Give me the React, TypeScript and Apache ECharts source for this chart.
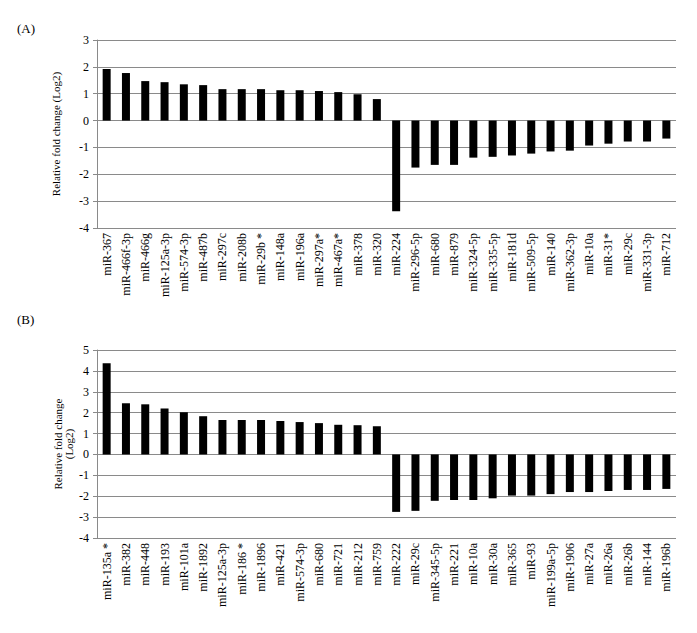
import React, { useEffect, useRef } from "react";
import * as echarts from "echarts";

const categoriesA = [
  "miR-367", "miR-466f-3p", "miR-466g", "miR-125a-3p", "miR-574-3p", "miR-487b",
  "miR-297c", "miR-208b", "miR-29b *", "miR-148a", "miR-196a", "miR-297a*",
  "miR-467a*", "miR-378", "miR-320", "miR-224", "miR-296-5p", "miR-680",
  "miR-879", "miR-324-5p", "miR-335-5p", "miR-181d", "miR-509-5p", "miR-140",
  "miR-362-3p", "miR-10a", "miR-31*", "miR-29c", "miR-331-3p", "miR-712",
];
const valuesA = [
  1.92, 1.77, 1.47, 1.43, 1.35, 1.32, 1.17, 1.17, 1.17, 1.13, 1.13, 1.1, 1.06, 0.98, 0.8,
  -3.38, -1.75, -1.65, -1.65, -1.38, -1.35, -1.3, -1.23, -1.15, -1.12, -0.93, -0.86, -0.78, -0.78, -0.67,
];
const categoriesB = [
  "miR-135a *", "miR-382", "miR-448", "miR-193", "miR-101a", "miR-1892",
  "miR-125a-3p", "miR-186 *", "miR-1896", "miR-421", "miR-574-3p", "miR-680",
  "miR-721", "miR-212", "miR-759", "miR-222", "miR-29c", "miR-345-5p",
  "miR-221", "miR-10a", "miR-30a", "miR-365", "miR-93", "miR-199a-5p",
  "miR-1906", "miR-27a", "miR-26a", "miR-26b", "miR-144", "miR-196b",
];
const valuesB = [
  4.37, 2.45, 2.4, 2.2, 2.02, 1.83, 1.65, 1.65, 1.65, 1.6, 1.55, 1.5, 1.42, 1.4, 1.35,
  -2.75, -2.7, -2.22, -2.18, -2.18, -2.1, -1.97, -1.97, -1.9, -1.8, -1.8, -1.75, -1.7, -1.7, -1.65,
];
const yRangeA = { min: -4, max: 3 };
const yRangeB = { min: -4, max: 5 };
const yTitleA = "Relative fold change (Log2)";
const yTitleB = "Relative fold change\n(Log2)";

const FONT = "Liberation Serif";
const GRID_COLOR = "#8a8a8a";

function yAxis(gridIndex: number, range: { min: number; max: number }, name: string, nameGap: number) {
  return {
    type: "value",
    gridIndex,
    min: range.min,
    max: range.max,
    interval: 1,
    name,
    nameLocation: "middle",
    nameGap,
    nameRotate: 90,
    nameMoveOverlap: false,
    nameTextStyle: { fontFamily: FONT, fontSize: 11, color: "#000", lineHeight: 11 },
    axisLine: { show: true, lineStyle: { color: GRID_COLOR, width: 1 } },
    axisTick: { show: true, length: 4, lineStyle: { color: GRID_COLOR } },
    axisLabel: { fontFamily: FONT, fontSize: 12, color: "#000", margin: 8 },
    splitLine: { show: true, lineStyle: { color: GRID_COLOR, width: 1 } },
  };
}

function xAxis(gridIndex: number, cats: string[]) {
  return {
    type: "category",
    gridIndex,
    data: cats,
    position: "bottom",
    axisLine: { show: false },
    axisTick: { show: false },
    axisLabel: { rotate: 90, interval: 0, fontFamily: FONT, fontSize: 12, color: "#000", margin: 5 },
    splitLine: { show: false },
  };
}

export default function App() {
  const ref = useRef<HTMLDivElement>(null);
  useEffect(() => {
    if (!ref.current) return;
    const chart = echarts.init(ref.current, null, { renderer: "svg" });
    chart.setOption({
      animation: false,
      backgroundColor: "#fff",
      title: [
        { text: "(A)", left: 12, top: 17, textStyle: { fontFamily: FONT, fontSize: 13, fontWeight: "normal", color: "#000" } },
        { text: "(B)", left: 12, top: 308, textStyle: { fontFamily: FONT, fontSize: 13, fontWeight: "normal", color: "#000" } },
      ],
      grid: [
        { left: 97, right: 21, top: 40, height: 188, outerBoundsMode: "none" },
        { left: 97, right: 21, top: 350, height: 188, outerBoundsMode: "none" },
      ],
      xAxis: [xAxis(0, categoriesA), xAxis(1, categoriesB)],
      yAxis: [yAxis(0, yRangeA, yTitleA, 36), yAxis(1, yRangeB, yTitleB, 23)],
      series: [
        {
          type: "bar",
          xAxisIndex: 0,
          yAxisIndex: 0,
          data: valuesA,
          barWidth: 8,
          itemStyle: { color: "#000" },
        },
        {
          type: "bar",
          xAxisIndex: 1,
          yAxisIndex: 1,
          data: valuesB,
          barWidth: 8,
          itemStyle: { color: "#000" },
        },
      ],
    });
    return () => chart.dispose();
  }, []);
  return <div ref={ref} style={{ position: "fixed", left: 0, top: 0, width: 697, height: 633 }} />;
}
